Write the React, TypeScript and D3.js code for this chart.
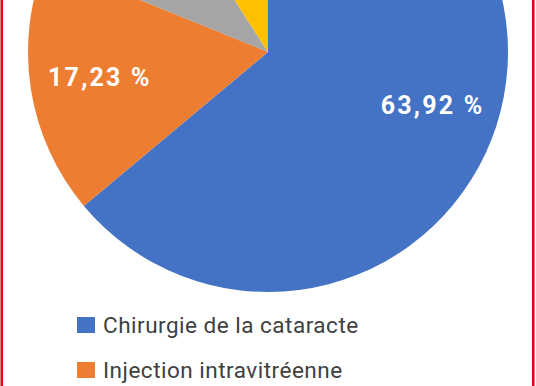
import React, { useEffect, useRef } from 'react';
import * as d3 from 'd3';

// Part des actes (%)
const categories = [
  'Chirurgie de la cataracte',
  'Injection intravitréenne',
  'Autres interventions',
  'Autres',
];
const values = [63.92, 17.23, 9.75, 9.1];
const colors = ['#4472C4', '#ED7D31', '#A5A5A5', '#FFC000'];

// label placement in the pie (angle in degrees from 12 o'clock, radius in px)
const labelPolar = [
  { angle: 108, r: 173 },
  { angle: 261.5, r: 170 },
  { angle: 310, r: 170 },
  { angle: 344, r: 170 },
];

const fmt = (v: number) => v.toFixed(2).replace('.', ',') + ' %';

const App: React.FC = () => {
  const svgRef = useRef<SVGSVGElement | null>(null);

  useEffect(() => {
    const width = 536;
    const height = 386;
    const cx = 268;
    const cy = 52;
    const radius = 240;

    const svg = d3.select(svgRef.current);
    svg.selectAll('*').remove();
    svg.attr('width', width).attr('height', height);

    svg.append('rect').attr('width', width).attr('height', height).attr('fill', '#fff');

    // Red frame lines
    svg.append('rect').attr('x', 0.5).attr('y', 0).attr('width', 2.5).attr('height', height).attr('fill', '#E2001A');
    svg.append('rect').attr('x', 532).attr('y', 0).attr('width', 2.5).attr('height', height).attr('fill', '#E2001A');

    const pie = d3.pie<number>().sort(null).value(d => d);
    const arcs = pie(values);
    const arc = d3.arc<d3.PieArcDatum<number>>().innerRadius(0).outerRadius(radius);

    const g = svg.append('g').attr('transform', `translate(${cx},${cy})`);

    // Slices
    g.selectAll('path')
      .data(arcs)
      .enter()
      .append('path')
      .attr('d', arc)
      .attr('fill', (d, i) => colors[i]);

    // Percentage labels
    arcs.forEach((d, i) => {
      const a = (labelPolar[i].angle * Math.PI) / 180;
      const x = Math.sin(a) * labelPolar[i].r;
      const y = -Math.cos(a) * labelPolar[i].r;
      if (cy + y < 0) return;
      g.append('text')
        .attr('x', x)
        .attr('y', y)
        .attr('dy', '0.35em')
        .attr('text-anchor', 'middle')
        .attr('fill', '#fff')
        .attr('font-family', 'Roboto, sans-serif')
        .attr('font-weight', 700)
        .attr('font-size', 25)
        .attr('letter-spacing', 2.2)
        .text(fmt(d.data));
    });

    // Legend
    const legend = svg.append('g');
    categories.forEach((c, i) => {
      const y = 317 + i * 45;
      if (y > height) return;
      legend.append('rect')
        .attr('x', 77)
        .attr('y', y)
        .attr('width', 18)
        .attr('height', 16)
        .attr('fill', colors[i]);
      legend.append('text')
        .attr('x', 103)
        .attr('y', y + 16)
        .attr('fill', '#404040')
        .attr('font-family', 'Roboto, sans-serif')
        .attr('font-size', 22.5)
        .attr('letter-spacing', 0.5)
        .text(c);
    });
  }, []);

  return (
    <>
      <style>{'body{margin:0}'}</style>
      <svg ref={svgRef} style={{ display: 'block' }}></svg>
    </>
  );
};

export default App;
